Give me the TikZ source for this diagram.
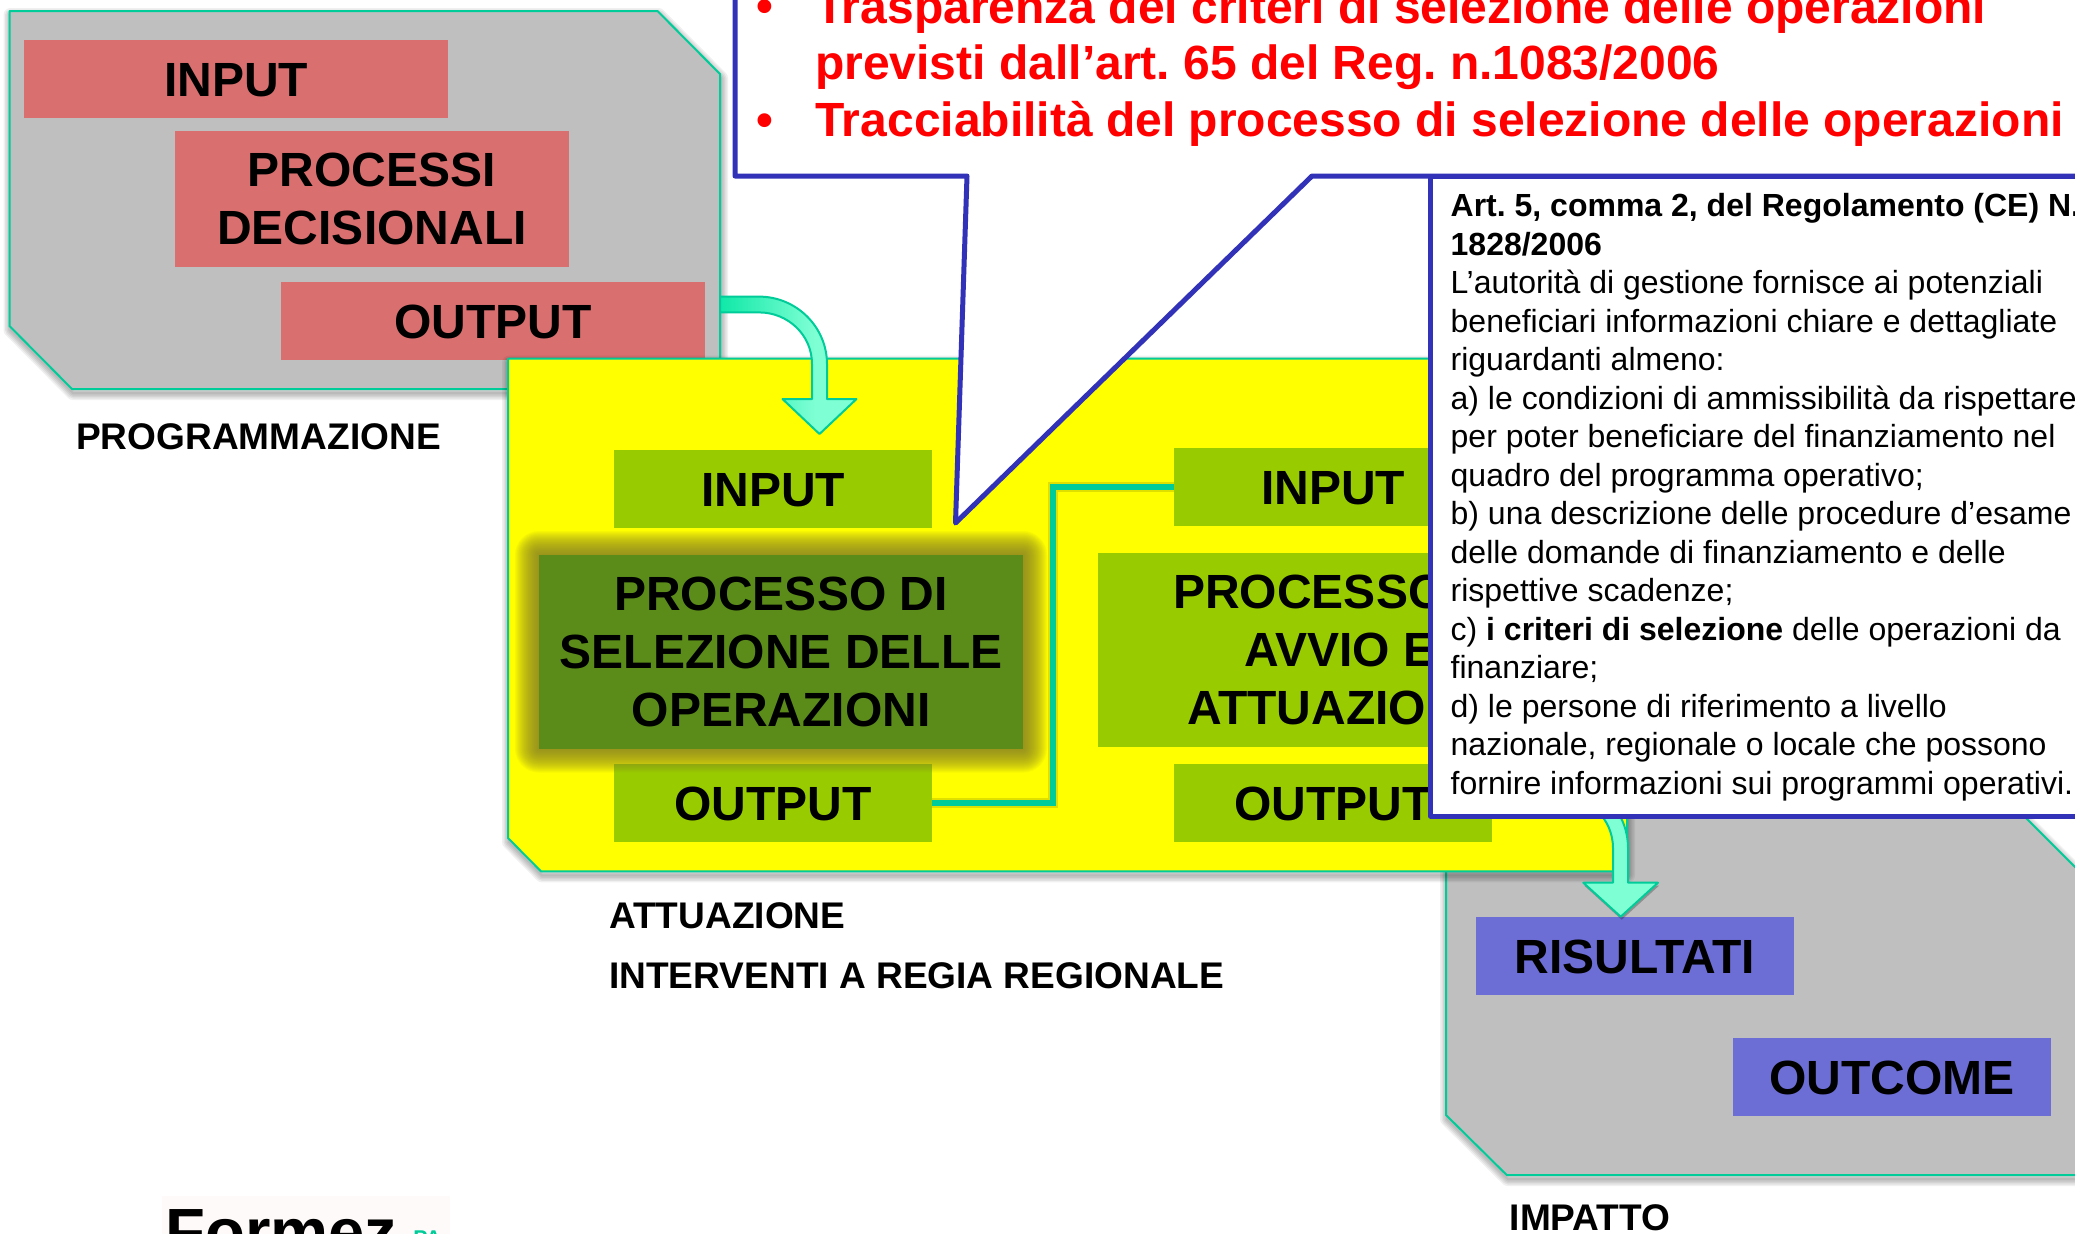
\documentclass[tikz,border=0pt]{standalone}
\usepackage{fontspec}
\setmainfont{Liberation Sans}
\AtBeginDocument{\frenchspacing}
\definecolor{greyfill}{HTML}{BFBFBF}
\definecolor{tealline}{HTML}{00CC99}
\definecolor{redbox}{HTML}{D96F6F}
\definecolor{limebox}{HTML}{99CC00}
\definecolor{darkbox}{HTML}{5B8C1A}
\definecolor{glowc}{HTML}{847D2A}
\definecolor{bluebox}{HTML}{6D6DD6}
\definecolor{blueline}{HTML}{3232B9}
\definecolor{aqua}{HTML}{7FFFD4}
\definecolor{aquastart}{HTML}{10E8A8}
\definecolor{pureyellow}{HTML}{FFFF00}
\definecolor{purered}{HTML}{FF0000}
\pgfdeclarehorizontalshading{arrowgrad}{100bp}{color(0bp)=(aquastart); color(25bp)=(aquastart); color(60bp)=(aqua); color(100bp)=(aqua)}
\newcommand{\softshade}[1]{\foreach \w in {14,11,8,5,2}{\draw[black,opacity=.06,line width=\w*0.75pt,line join=round,shift={(1,4)}] #1;}}
\newcommand{\lowered}[1]{\raisebox{-0.75pt}[\height][\depth]{#1}}
\tikzset{
  wh/.style 2 args={minimum width=#1*0.75pt,minimum height=#2*0.75pt},
  panel/.style={fill=greyfill,draw=tealline,line width=1.5pt,line join=round},
  yellowpanel/.style={fill=pureyellow,draw=tealline,line width=1.5pt,line join=round},
  bigbox/.style={inner sep=0pt,align=center,text=black,font=\fontsize{36}{43.5}\selectfont\bfseries},
  redcell/.style={bigbox,fill=redbox},
  limecell/.style={bigbox,fill=limebox},
  darkcell/.style={bigbox,fill=darkbox},
  bluecell/.style={bigbox,fill=bluebox},
  caption/.style={inner sep=0pt,anchor=west,text=black,font=\fontsize{27.8}{34}\selectfont\bfseries},
  redtxt/.style={inner sep=0pt,anchor=base west,text=purered,font=\fontsize{36}{43.5}\selectfont\bfseries},
  callout/.style={fill=white,draw=blueline,line width=3.75pt,line join=round},
  law/.style={inner sep=0pt,anchor=north west,align=left,text=black,font=\fontsize{24}{28.875}\selectfont},
  conn/.style={draw=tealline,line width=4pt,line join=miter},
  blockarrow/.style={draw=tealline,line width=1.5pt,line join=round},
}
\begin{document}
\begin{tikzpicture}[x=0.75pt,y=-0.75pt]
\useasboundingbox (0,0) rectangle (2075,1233);
\clip (0,0) rectangle (2075,1233);
\fill[white] (0,0) rectangle (2075,1233);

% programmazione panel
\softshade{(9.5,11) -- (657.5,11) -- (720,74) -- (720,389) -- (72,389) -- (9.5,326) -- cycle}
\path[panel] (9.5,11) -- (657.5,11) -- (720,74) -- (720,389) -- (72,389) -- (9.5,326) -- cycle;
\node[redcell,wh={424}{77.5}] (pin) at (236,78.75) {\lowered{INPUT}};
\node[redcell,wh={394}{135.5}] (pdec) at (372,198.75) {PROCESSI\\DECISIONALI};
\node[redcell,wh={424}{77.5}] (pout) at (493,320.75) {\lowered{OUTPUT}};
\node[caption] (cprog) at (76,437) {PROGRAMMAZIONE};

% impatto panel
\softshade{(1446,760) -- (1968,760) -- (2300,1092) -- (2300,1175) -- (1506.7,1175) -- (1446,1115) -- cycle}
\path[panel] (1446,760) -- (1968,760) -- (2300,1092) -- (2300,1175) -- (1506.7,1175) -- (1446,1115) -- cycle;
\node[bluecell,wh={318}{77.5}] (ris) at (1634.9,955.75) {\lowered{RISULTATI}};
\node[bluecell,wh={318}{77.5}] (outc) at (1892,1076.85) {\lowered{OUTCOME}};
\node[caption] (cimp) at (1509.5,1218) {IMPATTO};

% attuazione panel
\softshade{(508,358.6) -- (1627,358.6) -- (1627,871.4) -- (541,871.4) -- (508,838) -- cycle}
\path[yellowpanel] (508,358.6) -- (1627,358.6) -- (1627,871.4) -- (541,871.4) -- (508,838) -- cycle;
\node[limecell,wh={318}{77.5}] (in1) at (773,488.75) {\lowered{INPUT}};
\node[limecell,wh={318}{77.7}] (out1) at (773,802.85) {\lowered{OUTPUT}};
% glow round the selected process
\foreach \r in {24,23,...,0}{
  \fill[glowc,opacity=.06,rounded corners=\r*0.75pt] (539-\r,555-\r) rectangle (1023+\r,748.6+\r);
}
\node[darkcell,wh={484}{193.6}] (psel) at (781,651.8) {PROCESSO DI\\SELEZIONE DELLE\\OPERAZIONI};
\node[limecell,wh={318}{78}] (in2) at (1333,487) {\lowered{INPUT}};
\node[limecell,wh={484}{194}] (pavv) at (1340,650) {PROCESSO DI\\AVVIO E\\ATTUAZIONE};
\node[limecell,wh={318}{77.7}] (out2) at (1333,802.85) {\lowered{OUTPUT}};
\coordinate (bend) at (1053,802.85);
\draw[black,opacity=.12,line width=7pt,shift={(2,3)}] (out1.east) -- (bend) |- (in2.west);
\draw[conn] (out1.east) -- (bend) |- (in2.west);

\node[caption] (catt) at (609,916) {ATTUAZIONE};
\node[caption] (cint) at (609,976) {INTERVENTI A REGIA REGIONALE};

% block arrows
\path[shading=arrowgrad,blockarrow] (720,296.6) -- (759,296.6)
  .. controls (796.5,296.6) and (827,327) .. (827,364)
  -- (827,399) -- (856.5,399) -- (819.5,434) -- (782.5,399) -- (812,399) -- (812,364)
  .. controls (812,335) and (788,312.4) .. (759,312.4) -- (720,312.4) -- cycle;
\fill[black,opacity=.25,shift={(1,3)}] (1583.3,882.7) -- (1658,882.7) -- (1620.7,916.7) -- cycle;
\path[fill=aqua,blockarrow] (1500,780) -- (1560,780)
  .. controls (1597.5,780) and (1628,810.5) .. (1628,848)
  -- (1628,882.7) -- (1658,882.7) -- (1620.7,916.7) -- (1583.3,882.7) -- (1613,882.7) -- (1613,848)
  .. controls (1613,819) and (1589,795.5) .. (1560,795.5) -- (1500,795.5) -- cycle;

% callouts
\path[callout] (735,-20) -- (735,176) -- (967,176) -- (955.5,523) -- (1312,176) -- (2100,176) -- (2100,-20) -- cycle;
\node[redtxt] (r0) at (756,22) {•};
\node[redtxt] (r1) at (815,23) {Trasparenza dei criteri di selezione delle operazioni};
\node[redtxt] (r2) at (815,79) {previsti dall’art. 65 del Reg. n.1083/2006};
\node[redtxt] (r3) at (756,136.6) {•};
\node[redtxt] (r4) at (815,136.6) {Tracciabilità del processo di selezione delle operazioni};

\path[callout] (1430.5,176) rectangle (2100,816);
\node[law] (art) at (1450.4,193.2) {\textbf{Art. 5, comma 2, del Regolamento (CE) N.}\\
\textbf{1828/2006}\\
L’autorità di gestione fornisce ai potenziali\\
beneficiari informazioni chiare e dettagliate\\
riguardanti almeno:\\
a) le condizioni di ammissibilità da rispettare\\
per poter beneficiare del finanziamento nel\\
quadro del programma operativo;\\
b) una descrizione delle procedure d’esame\\
delle domande di finanziamento e delle\\
rispettive scadenze;\\
c) \textbf{i criteri di selezione} delle operazioni da\\
finanziare;\\
d) le persone di riferimento a livello\\
nazionale, regionale o locale che possono\\
fornire informazioni sui programmi operativi.};

% logo
\fill[white!98!red] (162,1196) rectangle (450,1240);
\node[inner sep=0pt,anchor=base west,text=black,font=\fontsize{49}{58}\selectfont\bfseries] (logo) at (165,1254) {Formez};
\node[inner sep=0pt,anchor=base west,text=tealline,font=\fontsize{16}{20}\selectfont\bfseries] (logopa) at (413,1245) {PA};
\end{tikzpicture}
\end{document}
